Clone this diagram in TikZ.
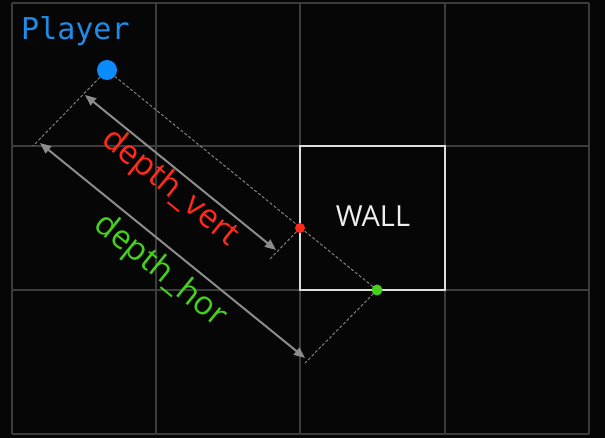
\documentclass[tikz,border=0pt]{standalone}
\usepackage{fontspec}
\setmainfont{Open Sans}
\newfontfamily\monofont{DejaVu Sans Mono}
\usetikzlibrary{arrows.meta}
\definecolor{bgc}{HTML}{060606}
\definecolor{gridc}{HTML}{3C3C3C}
\definecolor{wallc}{HTML}{DCDCDC}
\definecolor{walltxt}{HTML}{EEEEEE}
\definecolor{dashc}{HTML}{8A8A8A}
\definecolor{arrc}{HTML}{8C8C8C}
\definecolor{playerc}{HTML}{0A8CFF}
\definecolor{playertxt}{HTML}{1E8CE8}
\definecolor{redc}{HTML}{FF2A1A}
\definecolor{greenc}{HTML}{46D01E}
\begin{document}
\begin{tikzpicture}[x=1pt,y=-1pt,
  gridline/.style={draw=gridc,line width=2pt},
  wallbox/.style={draw=wallc,line width=2pt},
  dashline/.style={draw=dashc,line width=0.9pt,dash pattern=on 3pt off 2pt},
  measure/.style={draw=arrc,line width=2pt,{Triangle[length=11pt,width=9pt]}-{Triangle[length=11pt,width=9pt]}},
  dot/.style={circle,inner sep=0pt,minimum size=#1},
  label/.style={inner sep=0pt,rotate=-39,font=\fontsize{33}{38}\selectfont}
]
\useasboundingbox (0,0) rectangle (605,438);
\fill[bgc] (0,0) rectangle (605,438);
% grid
\foreach \x in {12,156,300,445,589} \draw[gridline] (\x,3) -- (\x,434);
\foreach \y in {3,146,290,434} \draw[gridline] (12,\y) -- (589,\y);
% wall
\draw[wallbox] (300,146) rectangle (445,290);
\node[inner sep=0pt,text=walltxt,font=\fontsize{29}{34}\selectfont] (wall) at (373,216) {WALL};
% points
\coordinate (pp) at (107,70);
\coordinate (rp) at (300,228);
\coordinate (gp) at (377,290);
\coordinate (pe) at (33,146);
\coordinate (re) at (270,259);
\coordinate (ge) at (305,363);
% dashed lines
\draw[dashline] (pp) -- (gp);
\draw[dashline] (pp) -- (pe);
\draw[dashline] (rp) -- (re);
\draw[dashline] (gp) -- (ge);
% measures
\coordinate (v1) at (85,95);
\coordinate (v2) at (276,250);
\coordinate (h1) at (40,143);
\coordinate (h2) at (305,358);
\draw[measure] (v1) -- (v2);
\draw[measure] (h1) -- (h2);
% dots
\node[dot=20pt,fill=playerc] (player) at (pp) {};
\node[dot=10pt,fill=redc] (hitv) at (rp) {};
\node[dot=11pt,fill=greenc] (hith) at (gp) {};
% labels
\node[anchor=base west,inner sep=0pt,text=playertxt,font=\monofont\fontsize{30}{36}\selectfont] (ptxt) at (21,40) {Player};
\node[label,text=redc] (lv) at (170,188) {depth\_vert};
\node[label,text=greenc] (lh) at (160,271) {depth\_hor};
\end{tikzpicture}
\end{document}
